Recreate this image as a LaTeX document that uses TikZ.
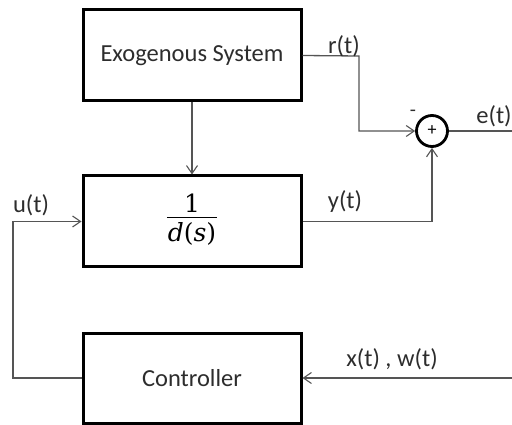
\documentclass[tikz,border=0pt]{standalone}
\usepackage{fontspec}
\setmainfont{Carlito}
\newfontfamily\frcfont{DejaVu Serif}
\usetikzlibrary{arrows.meta}
\definecolor{linegray}{RGB}{85,85,85}
\definecolor{txtgray}{RGB}{45,45,45}
\begin{document}
\begin{tikzpicture}[x=1pt,y=-1pt,
  blockbox/.style={draw=black,line width=3pt,minimum width=218pt,inner sep=0pt,font=\fontsize{24.5}{28}\selectfont,text=txtgray},
  conn/.style={draw=linegray,line width=1.3pt,-{Straight Barb[length=8pt,width=11pt,line width=1.1pt]}},
  plain/.style={draw=linegray,line width=1.3pt},
  lbl/.style={font=\fontsize{24.5}{28}\selectfont,text=txtgray,inner sep=0pt}]
\useasboundingbox (0,0) rectangle (512,425);
\clip (0,0) rectangle (512,425);
\node[blockbox,minimum height=91pt] (exo) at (192,55.5) {Exogenous System};
\node[blockbox,minimum height=91pt,text=black] (plant) at (192,221.5) {\frcfont\fontsize{25}{26}\selectfont\setlength{\arrayrulewidth}{1.4pt}\setlength{\tabcolsep}{1pt}\begin{tabular}{c}1\\[-3pt]\hline\rule{0pt}{23pt}\textit{d}(\textit{s})\end{tabular}};
\node[blockbox,minimum height=90pt] (ctrl) at (192,378) {Controller};
\node[circle,draw=black,line width=2.8pt,minimum size=31pt,inner sep=0pt,font=\fontsize{18}{20}\selectfont] (sum) at (432,131) {+};
\coordinate (rc) at (359,56);
\coordinate (rd) at (359,131);
\coordinate (yc) at (432,221.5);
\coordinate (eout) at (512,131);
\coordinate (xin) at (512,378);
\coordinate (ua) at (13,378);
\coordinate (ub) at (13,221.5);
\draw[conn] (exo) -- (plant);
\draw[conn] (exo.east) -- (rc) -- (rd) -- (sum.west);
\draw[conn] (plant.east) -- (yc) -- (sum.south);
\draw[plain] (sum.east) -- (eout);
\draw[conn] (xin) -- (ctrl.east);
\draw[conn] (ctrl.west) -- (ua) -- (ub) -- (plant.west);
\node[lbl] (lr) at (344,46) {r(t)};
\node[lbl] (ly) at (345,202) {y(t)};
\node[lbl] (lu) at (31,205) {u(t)};
\node[lbl] (le) at (494,116) {e(t)};
\node[lbl] (lx) at (392,359) {x(t) , w(t)};
\node[lbl,font=\fontsize{20}{22}\selectfont] (lm) at (413,113) {-};
\end{tikzpicture}
\end{document}
